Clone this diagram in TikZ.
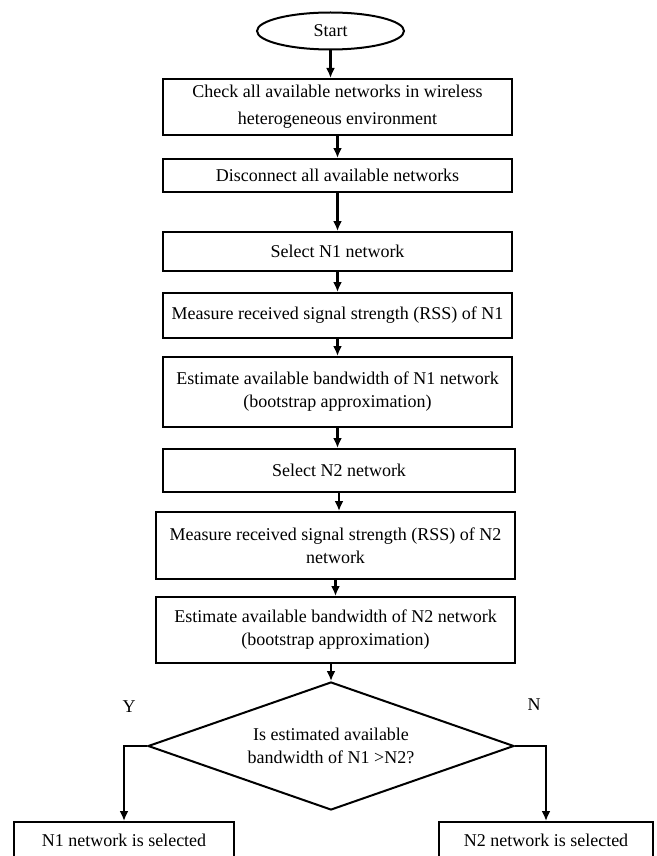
\documentclass[tikz,border=0pt]{standalone}
\usepackage{fontspec}
\setmainfont{Liberation Serif}
\usetikzlibrary{shapes.geometric,arrows.meta}

\begin{document}
\begin{tikzpicture}[x = 1pt, y = -1pt,
	every node/.style = {font = \fontsize{18}{23}\selectfont},
	blk/.style = {draw, line width = 2pt, rectangle, align = center, inner sep = 2pt},
	arr/.style = {line width = 2.4pt, -{Latex[length = 10pt, width = 9pt]}}]
\useasboundingbox (0,0) rectangle (656,856);
\clip (0,0) rectangle (656,856);

\node[draw, ellipse, line width = 2pt, minimum width = 147pt, minimum height = 37pt, inner sep = 0pt] (start) at (330.5,31) {Start};
\node[blk, minimum width = 349pt, minimum height = 56pt] (check) at (337.5,107) {Check all available networks in wireless\\[4pt] heterogeneous environment};
\node[blk, minimum width = 349pt, minimum height = 33pt] (disc) at (337.5,175.5) {Disconnect all available networks};
\node[blk, minimum width = 349pt, minimum height = 39pt] (sel1) at (337.5,251.5) {Select N1 network};
\node[blk, minimum width = 349pt, minimum height = 45pt] (rss1) at (337.5,315.5) {Measure received signal strength (RSS) of N1};
\node[blk, minimum width = 349pt, minimum height = 70pt] (bw1) at (337.5,392) {Estimate available bandwidth of N1 network\\ (bootstrap approximation)};
\node[blk, minimum width = 352pt, minimum height = 43pt] (sel2) at (339,470.5) {Select N2 network};
\node[blk, minimum width = 359pt, minimum height = 67pt] (rss2) at (335.5,545.5) {Measure received signal strength (RSS) of N2\\ network};
\node[blk, minimum width = 359pt, minimum height = 66pt] (bw2) at (335.5,630) {Estimate available bandwidth of N2 network\\ (bootstrap approximation)};
\node[draw, diamond, line width = 2pt, minimum width = 366pt, minimum height = 128pt, aspect = 2.86, inner sep = 0pt, align = center] (cmp) at (331,746) {Is estimated available\\ bandwidth of N1 >N2?};
\node (yes) at (129,707) {Y};
\node (no) at (534,705) {N};
\node[blk, minimum width = 220pt, minimum height = 36pt] (res1) at (124,840) {N1 network is selected};
\node[blk, minimum width = 214pt, minimum height = 36pt] (res2) at (546,840) {N2 network is selected};

\draw[arr] (start.south) -- (start.south |- check.north);
\foreach \a/\b in {check/disc, disc/sel1, sel1/rss1, rss1/bw1, bw1/sel2, sel2/rss2, rss2/bw2}
	\draw[arr] (\a.south) -- (\a.south |- \b.north);
\draw[arr] (bw2.south -| cmp.north) -- (cmp.north);
\draw[arr] (cmp.west) -| (res1.north);
\draw[arr] (cmp.east) -| (res2.north);
\end{tikzpicture}
\end{document}
